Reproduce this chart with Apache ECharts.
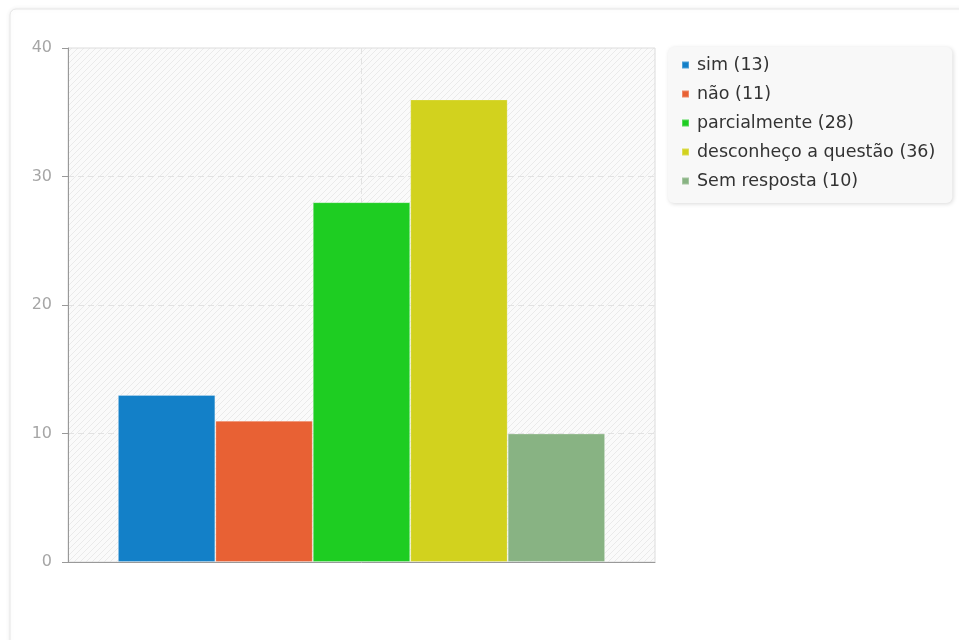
<!DOCTYPE html>
<html>
<head>
<meta charset="utf-8">
<script src="https://cdn.jsdelivr.net/npm/echarts@6/dist/echarts.min.js"></script>
<style>
html,body{margin:0;padding:0;background:#fff;}
#chart{width:959px;height:640px;}
</style>
</head>
<body>
<div id="chart"></div>
<script>
const answerNames = ['sim', 'não', 'parcialmente', 'desconheço a questão', 'Sem resposta'];
const answerCounts = [13, 11, 28, 36, 10];
const answerColors = ['#1380C8', '#E86134', '#1ECD22', '#D2D21E', '#88B383'];
const yMin = 0, yMax = 40, yStep = 10;

// hatch pattern for plot background
const pc = document.createElement('canvas');
pc.width = 6; pc.height = 6;
const g = pc.getContext('2d');
g.fillStyle = '#fafafa';
g.fillRect(0, 0, 6, 6);
g.strokeStyle = '#eaeaea';
g.lineWidth = 1;
g.beginPath();
g.moveTo(0, 6); g.lineTo(6, 0);
g.moveTo(-1, 1); g.lineTo(1, -1);
g.moveTo(5, 7); g.lineTo(7, 5);
g.stroke();

const chart = echarts.init(document.getElementById('chart'), null, {renderer: 'canvas'});

const series = answerNames.map((n, i) => ({
  name: n + ' (' + answerCounts[i] + ')',
  type: 'bar',
  data: [answerCounts[i]],
  barGap: '0%',
  barCategoryGap: '17%',
  itemStyle: {color: answerColors[i], borderColor: 'rgba(255,255,255,0.25)', borderWidth: 1},
  emphasis: {disabled: true}
}));

chart.setOption({
  animation: false,
  backgroundColor: '#fff',
  graphic: [{
    type: 'rect', z: -10,
    shape: {x: 10, y: 9, width: 1200, height: 900, r: 6},
    style: {fill: '#fff', stroke: '#e6e6e6', lineWidth: 1, shadowBlur: 5, shadowColor: 'rgba(0,0,0,0.07)'}
  }],
  grid: {
    left: 68, top: 48, right: 304, bottom: 78,
    show: true,
    backgroundColor: {image: pc, repeat: 'repeat'},
    borderColor: '#dcdcdc', borderWidth: 1
  },
  legend: {
    orient: 'vertical',
    left: 668, top: 47,
    padding: [9, 17, 13, 13],
    backgroundColor: '#f8f8f8',
    borderRadius: 6,
    shadowBlur: 4, shadowColor: 'rgba(0,0,0,0.15)', shadowOffsetX: 1, shadowOffsetY: 1,
    icon: 'rect',
    itemWidth: 7, itemHeight: 7,
    itemGap: 11,
    selectedMode: false,
    textStyle: {fontFamily: 'DejaVu Sans', fontSize: 17.5, color: '#333', lineHeight: 18, padding: [0, 0, 0, 3]},
    data: series.map(s => s.name)
  },
  xAxis: [{
    type: 'category',
    data: [''],
    axisLine: {show: true, lineStyle: {color: '#999', width: 1}},
    axisTick: {show: false},
    axisLabel: {show: false},
    splitLine: {show: false}
  }, {
    type: 'value', min: 0, max: 2, interval: 1,
    position: 'bottom',
    axisLine: {show: false}, axisTick: {show: false}, axisLabel: {show: false},
    splitLine: {show: true, showMinLine: false, showMaxLine: false, lineStyle: {color: '#e2e2e2', type: [6, 4], width: 1}}
  }],
  yAxis: {
    type: 'value', min: yMin, max: yMax, interval: yStep,
    axisLine: {show: true, lineStyle: {color: '#999', width: 1}},
    axisTick: {show: true, length: 6, lineStyle: {color: '#999'}},
    axisLabel: {fontFamily: 'DejaVu Sans', fontSize: 16, color: '#a6a6a6', margin: 16},
    splitLine: {show: true, showMinLine: false, showMaxLine: false, lineStyle: {color: '#e2e2e2', type: [6, 4], width: 1}}
  },
  series: series
});
</script>
</body>
</html>
